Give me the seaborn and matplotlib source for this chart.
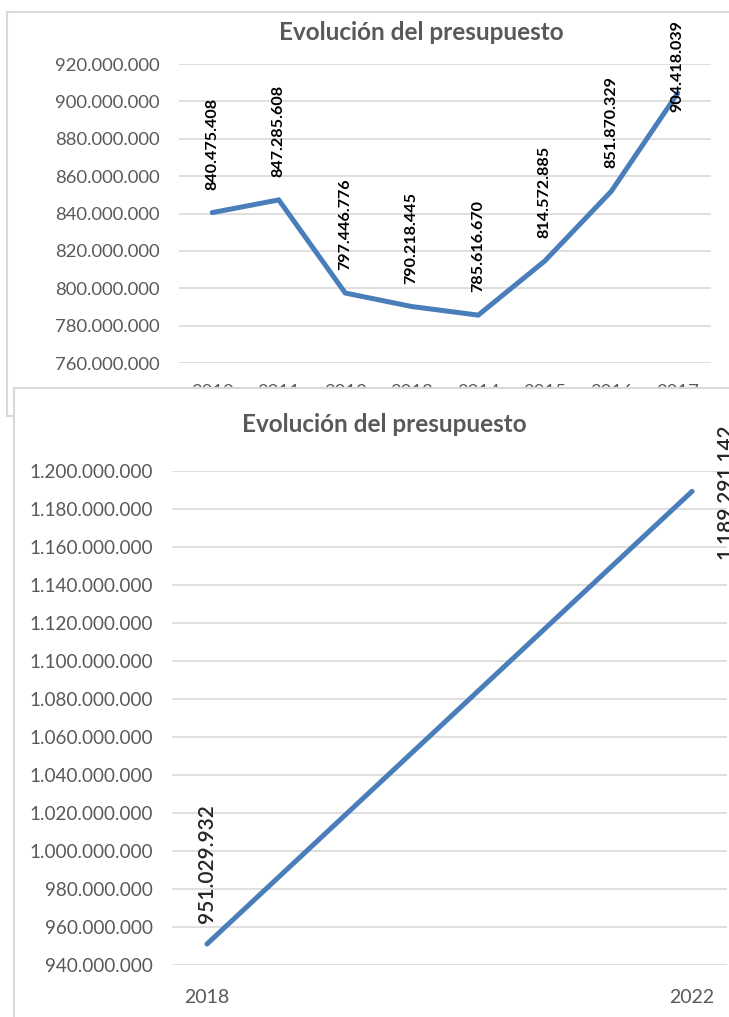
import numpy as np
import pandas as pd
import matplotlib
matplotlib.use("Agg")
import matplotlib.pyplot as plt
import seaborn as sns

# ---- data ----
years_top = ["2010", "2011", "2012", "2013", "2014", "2015", "2016", "2017"]
budget_top = [840475408, 847285608, 797446776, 790218445, 785616670, 814572885, 851870329, 904418039]
years_bottom = ["2018", "2022"]
budget_bottom = [951029932, 1189291142]
title_text = "Evolución del presupuesto"

sns.set_theme(style="white")
plt.rcParams["font.family"] = ["Lato", "DejaVu Sans"]

W, H = 729, 1017
fig = plt.figure(figsize=(W / 100, H / 100), dpi=100)
fig.patch.set_facecolor("white")

LINE = "#4A7EBB"
GRID = "#D9D9D9"
TICK = "#595959"
FRAME = "#D9D9D9"


def fmt(v):
    return f"{v:,}".replace(",", ".")


def px_axes(l, t, r, b):
    return [l / W, 1 - b / H, (r - l) / W, (b - t) / H]


# ---- frame of top chart ----
fr1 = fig.add_axes(px_axes(7, 12, 740, 416), zorder=0)
fr1.set_xticks([]); fr1.set_yticks([])
for s in fr1.spines.values():
    s.set_color(FRAME); s.set_linewidth(1.5)
fr1.set_facecolor("white")

# ---- top chart ----
ax1 = fig.add_axes(px_axes(179, 64, 711, 363), zorder=1)
ax1.patch.set_alpha(0)
df1 = pd.DataFrame({"pos": np.arange(len(years_top)), "val": budget_top})
sns.lineplot(data=df1, x="pos", y="val", ax=ax1, color=LINE, linewidth=3.6,
             solid_capstyle="round", solid_joinstyle="miter")
ax1.set_xlim(-0.5, len(years_top) - 0.5)
ax1.set_ylim(760_000_000, 920_000_000)
ax1.set_yticks(np.arange(760_000_000, 920_000_001, 20_000_000))
ax1.set_yticklabels([fmt(v) for v in ax1.get_yticks().astype(np.int64)])
ax1.set_xticks(df1["pos"])
ax1.set_xticklabels(years_top)
ax1.set_xlabel(""); ax1.set_ylabel("")
ax1.grid(axis="y", color=GRID, linewidth=1.2)
ax1.set_axisbelow(True)
for s in ax1.spines.values():
    s.set_visible(False)
ax1.tick_params(axis="y", length=0, pad=14, labelsize=13.3, labelcolor=TICK)
ax1.tick_params(axis="x", length=0, pad=15, labelsize=13.3, labelcolor=TICK)
for i, v in enumerate(budget_top):
    off = 23 if i < len(budget_top) - 1 else -19
    ax1.annotate(fmt(v), (i, v), xytext=(0, off), textcoords="offset pixels",
                 rotation=90, ha="center", va="bottom", fontsize=11.6,
                 fontweight="bold", color="black", annotation_clip=False)

fig.text(421 / W, 1 - 32 / H, title_text, ha="center", va="center",
         fontsize=17.5, fontweight="bold", color=TICK)

# ---- frame of bottom chart (covers the top chart's lower part) ----
fr2 = fig.add_axes(px_axes(14, 388, 740, 1030), zorder=2)
fr2.set_xticks([]); fr2.set_yticks([])
for s in fr2.spines.values():
    s.set_color(FRAME); s.set_linewidth(1.5)
fr2.set_facecolor("white")

# ---- bottom chart ----
ax2 = fig.add_axes(px_axes(172, 471, 727, 965), zorder=3)
ax2.patch.set_alpha(0)
df2 = pd.DataFrame({"pos": np.arange(len(years_bottom)), "val": budget_bottom})
sns.lineplot(data=df2, x="pos", y="val", ax=ax2, color=LINE, linewidth=3.6,
             solid_capstyle="round")
ax2.set_xlim(-0.072, 1.072)
ax2.set_ylim(940_000_000, 1_200_000_000)
ax2.set_yticks(np.arange(940_000_000, 1_200_000_001, 20_000_000))
ax2.set_yticklabels([fmt(v) for v in ax2.get_yticks().astype(np.int64)])
ax2.set_xticks(df2["pos"])
ax2.set_xticklabels(years_bottom)
ax2.set_xlabel(""); ax2.set_ylabel("")
ax2.grid(axis="y", color=GRID, linewidth=1.2)
ax2.set_axisbelow(True)
for s in ax2.spines.values():
    s.set_visible(False)
ax2.tick_params(axis="y", length=0, pad=14, labelsize=13.6, labelcolor=TICK)
ax2.tick_params(axis="x", length=0, pad=17, labelsize=14, labelcolor=TICK)
ax2.annotate(fmt(budget_bottom[0]), (0, budget_bottom[0]), xytext=(0, 21),
             textcoords="offset pixels", rotation=90, ha="center", va="bottom",
             fontsize=15, fontweight="semibold", color="#262626",
             annotation_clip=False)
ax2.annotate(fmt(budget_bottom[1]), (1, budget_bottom[1]), xytext=(33, 0),
             textcoords="offset pixels", rotation=90, ha="center", va="center",
             fontsize=15, fontweight="semibold", color="#262626",
             annotation_clip=False)

fig.text(384 / W, 1 - 424 / H, title_text, ha="center", va="center",
         fontsize=17.5, fontweight="bold", color=TICK)

fig.savefig("out.png", dpi=100, facecolor="white")
